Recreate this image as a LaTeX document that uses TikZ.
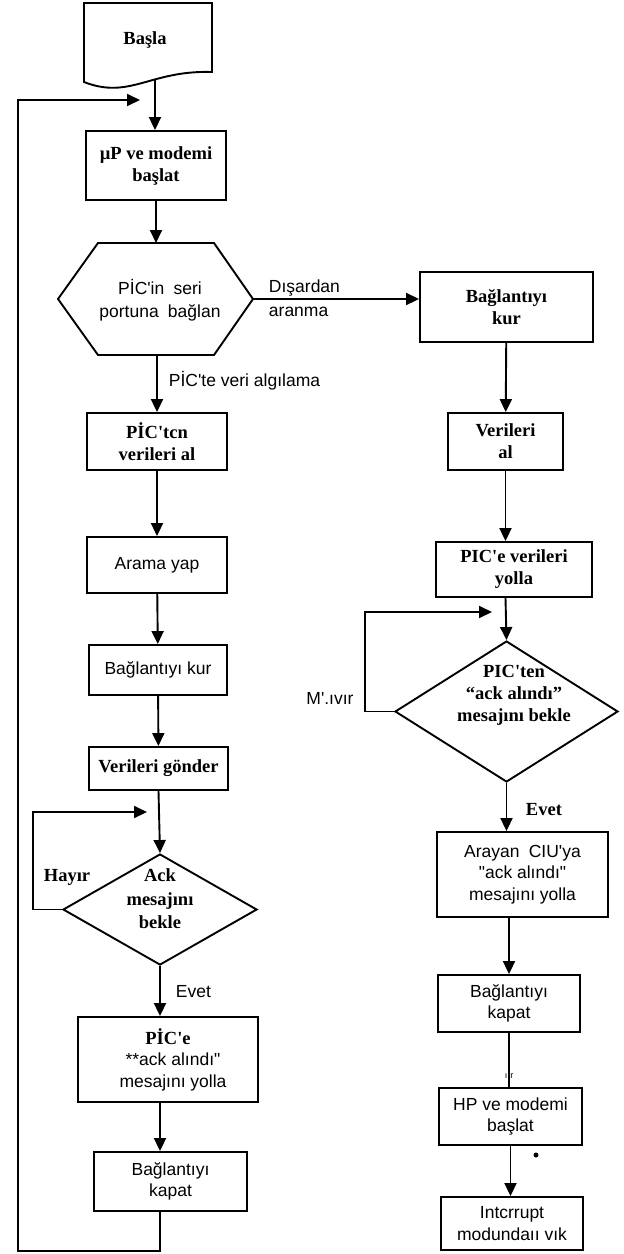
\documentclass[tikz,border=0pt]{standalone}
\usepackage{fontspec}
\setmainfont{Liberation Serif}[Ligatures=TeXOff]
\newfontfamily\arial{Liberation Sans}
\usetikzlibrary{arrows.meta,shapes.geometric}
\begin{document}
\begin{tikzpicture}[x=1pt,y=-1pt,
  line width=1.9pt,
  arr/.style={-{Triangle[length=13pt,width=12pt]}},
  boxb/.style={draw, rectangle, inner sep=0pt, align=center,
    font=\bfseries\fontsize{18.5}{22}\selectfont},
  boxs/.style={draw, rectangle, inner sep=0pt, align=center,
    font=\arial\fontsize{17.5}{21.5}\selectfont},
  lbls/.style={inner sep=0pt, align=center, font=\arial\fontsize{17.5}{23}\selectfont},
  lblb/.style={inner sep=0pt, align=center, font=\bfseries\fontsize{18.5}{22.5}\selectfont},
  dia/.style={draw, diamond, inner sep=0pt},
]
\useasboundingbox (0,0) rectangle (624,1254);

% ---------- start terminal (document shape) ----------
\draw (84,3) -- (212,3) -- (212,72) .. controls (150,70) and (130,100) .. (84,82) -- cycle;
\node[lblb] (basla) at (145,40) {Başla};
\coordinate (bs) at (155,80);

% ---------- left column ----------
\node[boxb, minimum width=140pt, minimum height=69pt] (b1) at (156,165.5) {µP ve modemi\\başlat};

% hexagon: connect to the serial port
\coordinate (hL)  at (58,299);
\coordinate (hTL) at (98,243);
\coordinate (hTR) at (214,243);
\coordinate (hR)  at (253,299);
\coordinate (hBR) at (214,355);
\coordinate (hBL) at (98,355);
\coordinate (hT)  at (156,243);
\coordinate (hB)  at (157,355);
\draw (hL) -- (hTL) -- (hTR) -- (hR) -- (hBR) -- (hBL) -- cycle;
\node[lbls] (hext) at (160,300) {PİC'in\hspace{0.25em} seri\\portuna\hspace{0.25em} bağlan};

\node[boxb, minimum width=140pt, minimum height=57pt] (b2) at (157,441.5) {PİC'tcn\\verileri al};
\node[boxs, minimum width=140pt, minimum height=56pt] (b3) at (157,565) {Arama yap};
\node[boxs, minimum width=138pt, minimum height=50pt] (b4) at (158,670) {Bağlantıyı kur};
\node[boxb, minimum width=139pt, minimum height=43pt] (b5) at (158.5,768.5) {Verileri gönder};
\node[dia, minimum width=194pt, minimum height=111pt] (d1) at (160,909.5) {};
\node[lblb, font=\bfseries\fontsize{18.5}{23.5}\selectfont] (d1t) at (160,899) {Ack\\mesajını\\bekle};
\node[boxs, minimum width=180pt, minimum height=85pt] (b6) at (168,1059.5)
  {{\rmfamily\bfseries\fontsize{18.5}{21.5}\selectfont PİC'e}\\\hspace*{10pt}**ack alındı"\\\hspace*{10pt}mesajını yolla};
\node[boxs, minimum width=153pt, minimum height=59pt] (b7) at (170.5,1181.5) {Bağlantıyı\\kapat};

% labels of the left column
\node[lbls, anchor=west] (lpic) at (168,381) {PİC'te veri algılama};
\node[lblb] (hayir) at (67,877) {Hayır};
\node[lbls, anchor=west] (evetL) at (175,992) {Evet};

% loop coordinates
\coordinate (lpB) at (18,1251);
\coordinate (lpT) at (18,100);
\coordinate (lpE) at (140,100);
\coordinate (hl)  at (33,812);
\coordinate (hE)  at (147,812);

% left column connectors
\draw[arr] (bs) -- (bs |- b1.north);
\draw[arr] (b1.south) -- (hT);
\draw[arr] (hB) -- (b2.north);
\draw[arr] (b2) -- (b3);
\draw[arr] (b3) -- (b4);
\draw[arr] (b4) -- (b5);
\draw[arr] (b5.south) -- (d1.north);
\draw[arr] (d1.south) -- (d1.south |- b6.north);
\draw[arr] (d1.south |- b6.south) -- (d1.south |- b7.north);
\draw[arr] (d1.west) -| (hl) -- (hE);
\draw[arr] (d1.south |- b7.south) |- (lpB) -- (lpT) -- (lpE);

% ---------- right column ----------
\node[boxb, minimum width=173pt, minimum height=70pt] (r1) at (506.5,307) {Bağlantıyı\\kur};
\node[boxb, minimum width=115pt, minimum height=57pt] (r2) at (505.5,441.5) {Verileri\\al};
\node[boxb, minimum width=156pt, minimum height=55pt] (r3) at (514,569.5) {PIC'e verileri\\yolla};
\node[dia, minimum width=223pt, minimum height=141pt] (d2) at (506.5,711.5) {};
\node[lblb, font=\bfseries\fontsize{18.5}{22}\selectfont] (d2t) at (514,695) {PIC'ten\\“ack alındı”\\mesajını bekle};
\node[boxs, minimum width=171pt, minimum height=85pt] (r4) at (522.5,874.5) {Arayan\hspace{0.25em} CIU'ya\\"ack alındı"\\mesajını yolla};
\node[boxs, minimum width=142pt, minimum height=57pt] (r5) at (509,1003.5) {Bağlantıyı\\kapat};
\node[boxs, minimum width=143pt, minimum height=57pt] (r6) at (510.5,1116.5) {HP ve modemi\\başlat};
\node[boxs, minimum width=142pt, minimum height=53pt] (r7) at (512,1223.5) {Intcrrupt\\modundaıı vık};

% labels of the right column
\node[lbls, anchor=west] (disar) at (268,288) {Dışardan};
\node[lbls, anchor=west] (aranma) at (268,312) {aranma};
\node[lbls] (mivir) at (330,698) {M'.ıvır};
\node[lblb, anchor=west] (evetR) at (525,810) {Evet};
\node[inner sep=0pt, font=\arial\fontsize{9}{10}\selectfont] (ir) at (509,1076) {ı\,\,r};
\fill (536,1155) circle (2.5pt);

% loop coordinates
\coordinate (ml) at (365,612);
\coordinate (mE) at (492,612);

% right column connectors
\draw[arr] (hR) -- (hR -| r1.west);
\draw[arr] (r1) -- (r2);
\draw[arr] (r2) -- (r3.north -| r2);
\draw[arr] (r3.south -| r2) -- (d2.north);
\draw[arr] (d2.south) -- (d2.south |- r4.north);
\draw[arr] (d2.west) -| (ml) -- (mE);
\draw[arr] (r4.south -| r5) -- (r5.north);
\draw (r5.south) -- (r5.south |- r6.north);
\draw[arr] (r6.south) -- (r6.south |- r7.north);
\end{tikzpicture}
\end{document}
